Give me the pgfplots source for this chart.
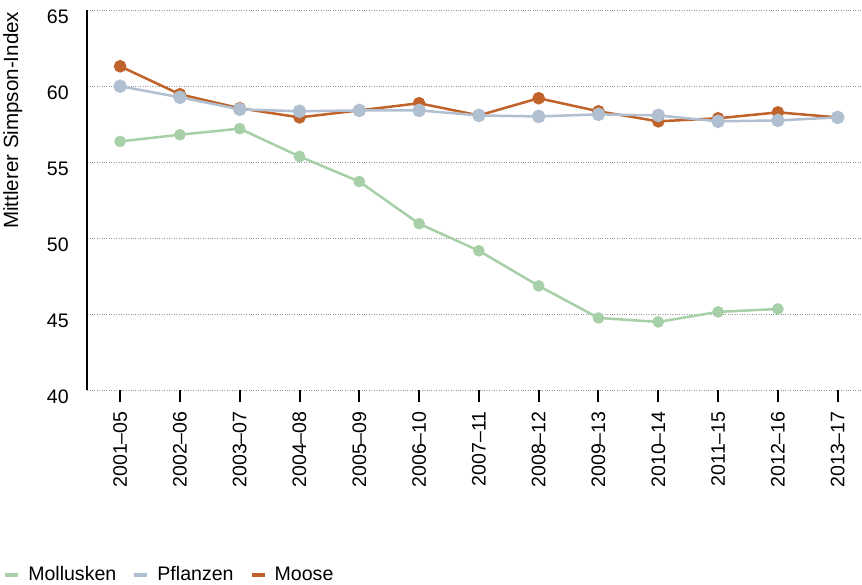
\documentclass[border=0pt]{standalone}
\usepackage{pgfplots}
\pgfplotsset{compat=1.18}
\usepackage{fontspec}
\setmainfont{Liberation Sans}
\definecolor{moll}{HTML}{A8D0A8}
\definecolor{pfl}{HTML}{B0C0D0}
\definecolor{moos}{HTML}{C0632A}
\begin{document}
\begin{tikzpicture}
\begin{axis}[
  scale only axis,
  width=772pt, height=379pt,
  xmin=-0.55, xmax=12.4,
  ymin=40, ymax=65,
  ytick={40,45,...,65},
  xtick={0,...,12},
  xticklabels={2001--05,2002--06,2003--07,2004--08,2005--09,2006--10,2007--11,2008--12,2009--13,2010--14,2011--15,2012--16,2013--17},
  tick label style={font=\fontsize{19.5}{23}\selectfont},
  label style={font=\fontsize{20.5}{24}\selectfont},
  x tick label style={rotate=90, anchor=east, inner xsep=9pt},
  /pgf/number format/assume math mode=true,
  axis lines=left,
  axis line style={-},
  x axis line style={draw=none},
  y axis line style={black, line width=2pt},
  tick align=outside,
  major tick length=12pt,
  xtick style={black, line width=2pt},
  ytick style={draw=none},
  yticklabel style={xshift=-3pt, yshift=-7pt},
  ymajorgrids,
  grid style={gray!80, dotted, line width=0.8pt},
  ylabel={Mittlerer Simpson-Index},
  ylabel style={at={(rel axis cs:-0.079,0.71)}, anchor=south},
  legend columns=3,
  legend style={draw=none, fill=none, inner sep=0pt, at={(-0.1088,-0.485)}, anchor=west,
    font=\fontsize{19.5}{23}\selectfont,
    /tikz/every odd column/.append style={column sep=6pt},
    /tikz/every even column/.append style={column sep=14pt}},
  legend image code/.code={\draw[line width=4pt] (0pt,0pt) -- (13pt,0pt);},
  clip=false,
]
\addlegendimage{moll}
\addlegendentry{Mollusken}
\addlegendimage{pfl}
\addlegendentry{Pflanzen}
\addlegendimage{moos}
\addlegendentry{Moose}
\addplot[forget plot, moll, line width=2.5pt, mark=*, mark size=4.5pt, mark options={fill=moll, draw=moll}] coordinates {
(0,56.36) (1,56.8) (2,57.2) (3,55.37) (4,53.72) (5,50.95) (6,49.17) (7,46.86) (8,44.75) (9,44.49) (10,45.15) (11,45.34)
};
\addplot[forget plot, moos, line width=2.5pt, mark=*, mark size=5pt, mark options={fill=moos, draw=moos}] coordinates {
(0,61.3) (1,59.46) (2,58.54) (3,57.94) (4,58.4) (5,58.87) (6,58.07) (7,59.2) (8,58.34) (9,57.68) (10,57.88) (11,58.27) (12,57.94)
};
\addplot[forget plot, pfl, line width=2.5pt, mark=*, mark size=5.5pt, mark options={fill=pfl, draw=pfl}] coordinates {
(0,59.99) (1,59.26) (2,58.47) (3,58.34) (4,58.4) (5,58.4) (6,58.07) (7,58.0) (8,58.14) (9,58.07) (10,57.68) (11,57.74) (12,57.94)
};
\path (rel axis cs:0,1) ++(0pt,10pt);
\end{axis}
\end{tikzpicture}
\end{document}
